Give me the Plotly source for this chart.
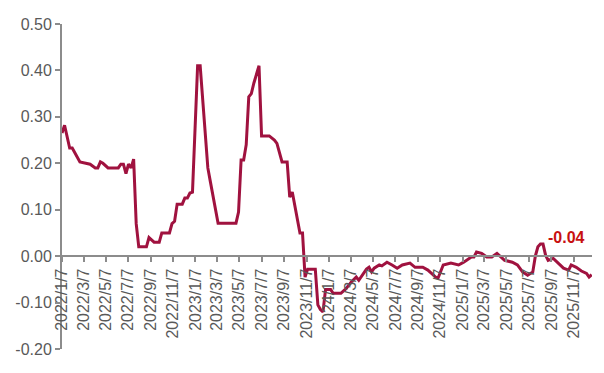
import plotly.graph_objects as go

dates = [
    "2022-01-07", "2022-01-14", "2022-01-28", "2022-02-04", "2022-02-25", "2022-03-18", "2022-03-25",
    "2022-04-08", "2022-04-15", "2022-04-22", "2022-04-29", "2022-05-13", "2022-06-10", "2022-06-17",
    "2022-06-24", "2022-07-01", "2022-07-08", "2022-07-15", "2022-07-22", "2022-07-29", "2022-08-05",
    "2022-08-26", "2022-09-02", "2022-09-09", "2022-09-16", "2022-09-30", "2022-10-07", "2022-10-28",
    "2022-11-04", "2022-11-11", "2022-11-18", "2022-12-02", "2022-12-09", "2022-12-16", "2022-12-23",
    "2022-12-30", "2023-01-13", "2023-01-20", "2023-01-27", "2023-02-03", "2023-02-10", "2023-02-17",
    "2023-03-10", "2023-04-28", "2023-05-05", "2023-05-12", "2023-05-19", "2023-05-26", "2023-06-02",
    "2023-06-09", "2023-06-16", "2023-06-30", "2023-07-07", "2023-07-28", "2023-08-04", "2023-08-11",
    "2023-08-18", "2023-09-01", "2023-09-15", "2023-09-22", "2023-09-29", "2023-10-20", "2023-10-27",
    "2023-11-03", "2023-11-10", "2023-12-01", "2023-12-08", "2023-12-15", "2023-12-22", "2023-12-29",
    "2024-01-12", "2024-01-19", "2024-02-09", "2024-02-23", "2024-03-08", "2024-03-22", "2024-03-29",
    "2024-04-19", "2024-04-26", "2024-05-03", "2024-05-10", "2024-05-24", "2024-05-31", "2024-06-14",
    "2024-06-28", "2024-07-12", "2024-07-26", "2024-08-16", "2024-08-30", "2024-09-20", "2024-10-04",
    "2024-10-25", "2024-11-01", "2024-11-15", "2024-12-06", "2024-12-27", "2025-01-10", "2025-01-31",
    "2025-02-07", "2025-02-14", "2025-02-28", "2025-03-14", "2025-03-28", "2025-04-11", "2025-05-02",
    "2025-05-23", "2025-06-06", "2025-06-20", "2025-07-04", "2025-07-18", "2025-07-25", "2025-08-01",
    "2025-08-08", "2025-08-15", "2025-08-22", "2025-08-29", "2025-09-12", "2025-09-26", "2025-10-10",
    "2025-10-24", "2025-10-31", "2025-11-14", "2025-11-28", "2025-12-12", "2025-12-19", "2025-12-26",
]

values = [
    0.265, 0.282, 0.233, 0.233, 0.203, 0.198, 0.198,
    0.190, 0.190, 0.203, 0.200, 0.190, 0.190, 0.198,
    0.198, 0.178, 0.198, 0.190, 0.209, 0.070, 0.020,
    0.020, 0.040, 0.035, 0.030, 0.030, 0.050, 0.050,
    0.070, 0.075, 0.112, 0.112, 0.125, 0.125, 0.136,
    0.138, 0.410, 0.410, 0.330, 0.250, 0.190, 0.160,
    0.071, 0.071, 0.095, 0.207, 0.207, 0.240, 0.343,
    0.350, 0.373, 0.410, 0.259, 0.259, 0.255, 0.250,
    0.243, 0.203, 0.203, 0.127, 0.138, 0.050, 0.050,
    -0.045, -0.028, -0.028, -0.105, -0.115, -0.120, -0.072,
    -0.072, -0.080, -0.080, -0.070, -0.056, -0.045, -0.052,
    -0.028, -0.024, -0.034, -0.026, -0.019, -0.021, -0.013,
    -0.019, -0.026, -0.019, -0.015, -0.024, -0.024, -0.030,
    -0.045, -0.047, -0.019, -0.015, -0.019, -0.013, -0.002,
    -0.002, 0.009, 0.006, -0.002, -0.002, 0.006, -0.009,
    -0.013, -0.019, -0.034, -0.041, -0.034, 0.000, 0.020,
    0.026, 0.026, 0.002, -0.009, -0.005, -0.015, -0.026,
    -0.030, -0.019, -0.024, -0.032, -0.037, -0.045, -0.040,
]

tick_dates = [
    "2022-01-07", "2022-03-07", "2022-05-07", "2022-07-07", "2022-09-07", "2022-11-07",
    "2023-01-07", "2023-03-07", "2023-05-07", "2023-07-07", "2023-09-07", "2023-11-07",
    "2024-01-07", "2024-03-07", "2024-05-07", "2024-07-07", "2024-09-07", "2024-11-07",
    "2025-01-07", "2025-03-07", "2025-05-07", "2025-07-07", "2025-09-07", "2025-11-07",
]
tick_labels = [d.replace("-0", "-").replace("-", "/") for d in tick_dates]

y_ticks = [-0.2, -0.1, 0.0, 0.1, 0.2, 0.3, 0.4, 0.5]
y_labels = ["%.2f" % v for v in y_ticks]
y_min, y_max = -0.2, 0.5

line_color = "#A0123F"
axis_color = "#8C8C8C"
text_color = "#595959"

fig = go.Figure()
fig.add_trace(go.Scatter(
    x=dates, y=values, mode="lines",
    line=dict(color=line_color, width=3),
    hoverinfo="skip", showlegend=False,
))

fig.add_annotation(
    x=dates[-1], y=values[-1], text="<b>%.2f</b>" % values[-1],
    showarrow=False, xshift=-25, yshift=37,
    font=dict(family="Liberation Sans, Arial", size=16, color="#C81010"),
)

# page body adds ~8px offset, margins compensate
fig.update_layout(
    width=604, height=373,
    margin=dict(l=54, r=20, t=16, b=32),
    paper_bgcolor="white", plot_bgcolor="white",
    font=dict(family="Liberation Sans, Arial", color=text_color),
    xaxis=dict(
        type="date",
        range=["2022-01-07", "2025-12-27"],
        tickmode="array", tickvals=tick_dates, ticktext=tick_labels,
        tickangle=-90, ticks="outside", ticklen=5, tickwidth=1.5, tickcolor=axis_color,
        tickfont=dict(size=16, color=text_color),
        showline=True, linecolor=axis_color, linewidth=2,
        showgrid=False, zeroline=False, automargin=False,
        anchor="free", position=(0 - y_min) / (y_max - y_min),
    ),
    yaxis=dict(
        range=[y_min, y_max],
        tickmode="array", tickvals=y_ticks, ticktext=y_labels,
        ticks="outside", ticklen=5, tickwidth=1.5, tickcolor=axis_color,
        tickfont=dict(size=16, color=text_color),
        showline=True, linecolor=axis_color, linewidth=2,
        showgrid=False, zeroline=False, automargin=False,
    ),
)

fig.write_html("out.html")
